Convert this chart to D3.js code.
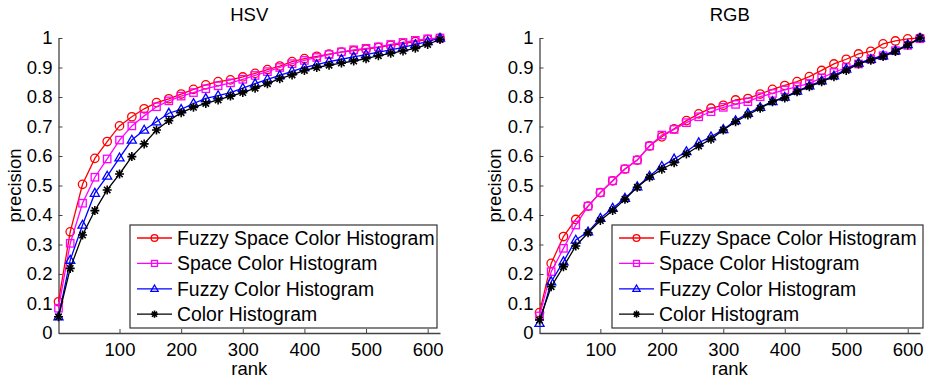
<!DOCTYPE html>
<html><head><meta charset="utf-8">
<script src="https://cdn.jsdelivr.net/npm/d3@7"></script>
<style>
html,body{margin:0;padding:0;background:#fff;}
svg text{font-family:"Liberation Sans",Arial,sans-serif;fill:#000;}
</style></head>
<body><svg id="c" width="929" height="381"></svg>
<script>
const ranks = [1,20,40,60,80,100,120,140,160,180,200,220,240,260,280,300,320,340,360,380,400,420,440,460,480,500,520,540,560,580,600,620];
const seriesNames = ["Fuzzy Space Color Histogram","Space Color Histogram","Fuzzy Color Histogram","Color Histogram"];
const seriesColors = ["#ff0000","#ff00ff","#0000ff","#000000"];
const seriesMarkers = ["circle","square","triangle","star"];

// HSV panel
const hsvFSCH = [.106,.343,.504,.592,.649,.702,.733,.76,.781,.794,.81,.826,.841,.852,.858,.868,.88,.893,.905,.92,.93,.938,.945,.952,.957,.962,.968,.975,.981,.988,.995,1.0];
const hsvSCH  = [.084,.304,.44,.528,.59,.654,.702,.736,.767,.787,.803,.815,.828,.838,.848,.86,.873,.886,.9,.913,.924,.934,.944,.953,.96,.965,.97,.978,.985,.992,.997,1.0];
const hsvFCH  = [.055,.247,.366,.474,.532,.594,.654,.688,.716,.745,.758,.778,.795,.805,.815,.83,.845,.86,.873,.887,.9,.91,.92,.928,.936,.944,.952,.96,.968,.978,.988,1.0];
const hsvCH   = [.055,.219,.332,.415,.485,.539,.598,.641,.688,.72,.747,.765,.778,.79,.803,.815,.83,.845,.862,.875,.89,.9,.908,.915,.922,.93,.94,.948,.956,.965,.978,.995];

// RGB panel
const rgbFSCH = [.069,.236,.327,.385,.43,.476,.516,.556,.586,.634,.665,.692,.72,.743,.762,.772,.79,.795,.81,.826,.839,.852,.869,.89,.912,.928,.946,.955,.98,.99,.997,1.0];
const rgbSCH  = [.058,.208,.287,.366,.43,.476,.516,.556,.586,.634,.671,.69,.713,.733,.75,.765,.775,.784,.801,.812,.824,.835,.846,.865,.883,.9,.912,.928,.94,.957,.975,.998];
const rgbFCH  = [.033,.174,.242,.315,.343,.389,.423,.457,.496,.532,.565,.59,.615,.645,.665,.69,.72,.745,.765,.785,.8,.82,.838,.855,.872,.895,.915,.928,.94,.957,.978,1.0];
const rgbCH   = [.044,.157,.225,.295,.34,.381,.415,.453,.494,.528,.555,.577,.607,.634,.657,.688,.716,.739,.762,.784,.797,.818,.835,.852,.869,.89,.912,.925,.937,.954,.976,1.0];

const yTicks = [0,0.1,0.2,0.3,0.4,0.5,0.6,0.7,0.8,0.9,1];
const yTickLabels = ["0","0.1","0.2","0.3","0.4","0.5","0.6","0.7","0.8","0.9","1"];
const xTicks = [100,200,300,400,500,600];
const xTickLabels = ["100","200","300","400","500","600"];

const panels = [
  {title:"HSV", data:[hsvFSCH,hsvSCH,hsvFCH,hsvCH], x0:58.5, x1:440, lx:130, lw:307, ylab:15},
  {title:"RGB", data:[rgbFSCH,rgbSCH,rgbFCH,rgbCH], x0:539.5, x1:920, lx:612, lw:311, ylab:495}
];

const svg = d3.select("#c");
const plotTop = 38, plotBottom = 333;

function marker(g, type, cx, cy, color, s) {
  if (type === "circle") {
    g.append("circle").attr("cx",cx).attr("cy",cy).attr("r",4.2*s)
      .attr("fill","none").attr("stroke",color).attr("stroke-width",1.3);
  } else if (type === "square") {
    g.append("rect").attr("x",cx-3.7*s).attr("y",cy-3.7*s).attr("width",7.4*s).attr("height",7.4*s)
      .attr("fill","none").attr("stroke",color).attr("stroke-width",1.3);
  } else if (type === "triangle") {
    const r = 4.8*s;
    g.append("path").attr("d",`M${cx},${cy-r}L${cx+r*0.95},${cy+r*0.65}L${cx-r*0.95},${cy+r*0.65}Z`)
      .attr("fill","none").attr("stroke",color).attr("stroke-width",1.3);
  } else {
    const r = 4.5*s, a = 3.2*s;
    g.append("path").attr("d",`M${cx-r},${cy}L${cx+r},${cy}M${cx},${cy-r}L${cx},${cy+r}M${cx-a},${cy-a}L${cx+a},${cy+a}M${cx-a},${cy+a}L${cx+a},${cy-a}`)
      .attr("fill","none").attr("stroke",color).attr("stroke-width",1.6);
  }
}

panels.forEach(p => {
  const x = d3.scaleLinear().domain([1,620]).range([p.x0,p.x1]);
  const y = d3.scaleLinear().domain([0,1]).range([plotBottom,plotTop]);
  const g = svg.append("g");

  const ax = g.append("g").attr("transform",`translate(0,${plotBottom})`)
    .call(d3.axisBottom(x).tickValues(xTicks).tickFormat((d,i)=>xTickLabels[i]).tickSizeInner(-4).tickSizeOuter(0).tickPadding(10));
  const ay = g.append("g").attr("transform",`translate(${p.x0},0)`)
    .call(d3.axisLeft(y).tickValues(yTicks).tickFormat((d,i)=>yTickLabels[i]).tickSizeInner(-4).tickSizeOuter(0).tickPadding(6));
  [ax,ay].forEach(a=>{
    a.selectAll("path.domain").attr("stroke","#444").attr("stroke-width",1.3);
    a.selectAll("line").attr("stroke","#444");
    a.selectAll("text").style("font-size","18.5px").attr("fill","#000");
  });

  const line = d3.line().x((d,i)=>x(ranks[i])).y(d=>y(d));
  p.data.forEach((vals,si)=>{
    g.append("path").datum(vals).attr("d",line).attr("fill","none")
      .attr("stroke",seriesColors[si]).attr("stroke-width",1.3);
    const mg = g.append("g");
    vals.forEach((v,i)=>marker(mg, seriesMarkers[si], x(ranks[i]), y(v), seriesColors[si], 1));
  });

  g.append("text").attr("x",(p.x0+p.x1)/2).attr("y",21).attr("text-anchor","middle").style("font-size","18.5px").text(p.title);
  g.append("text").attr("x",(p.x0+p.x1)/2).attr("y",375).attr("text-anchor","middle").style("font-size","18.5px").text("rank");
  g.append("text").attr("transform",`translate(${p.ylab+6},${(plotTop+plotBottom)/2}) rotate(-90)`).attr("text-anchor","middle").style("font-size","18.5px").text("precision");

  const lg = g.append("g");
  const ly0 = 225, lh = 103;
  lg.append("rect").attr("x",p.lx).attr("y",ly0).attr("width",p.lw).attr("height",lh)
    .attr("fill","#fff").attr("stroke","#333").attr("stroke-width",1.2);
  seriesNames.forEach((n,i)=>{
    const cy = 238 + i*25.4;
    lg.append("line").attr("x1",p.lx+7).attr("x2",p.lx+42).attr("y1",cy).attr("y2",cy)
      .attr("stroke",seriesColors[i]).attr("stroke-width",1.3);
    marker(lg, seriesMarkers[i], p.lx+24.5, cy, seriesColors[i], 0.8);
    lg.append("text").attr("x",p.lx+47).attr("y",cy).attr("dy","0.35em").style("font-size","19.4px").text(n);
  });
});
</script></body></html>
